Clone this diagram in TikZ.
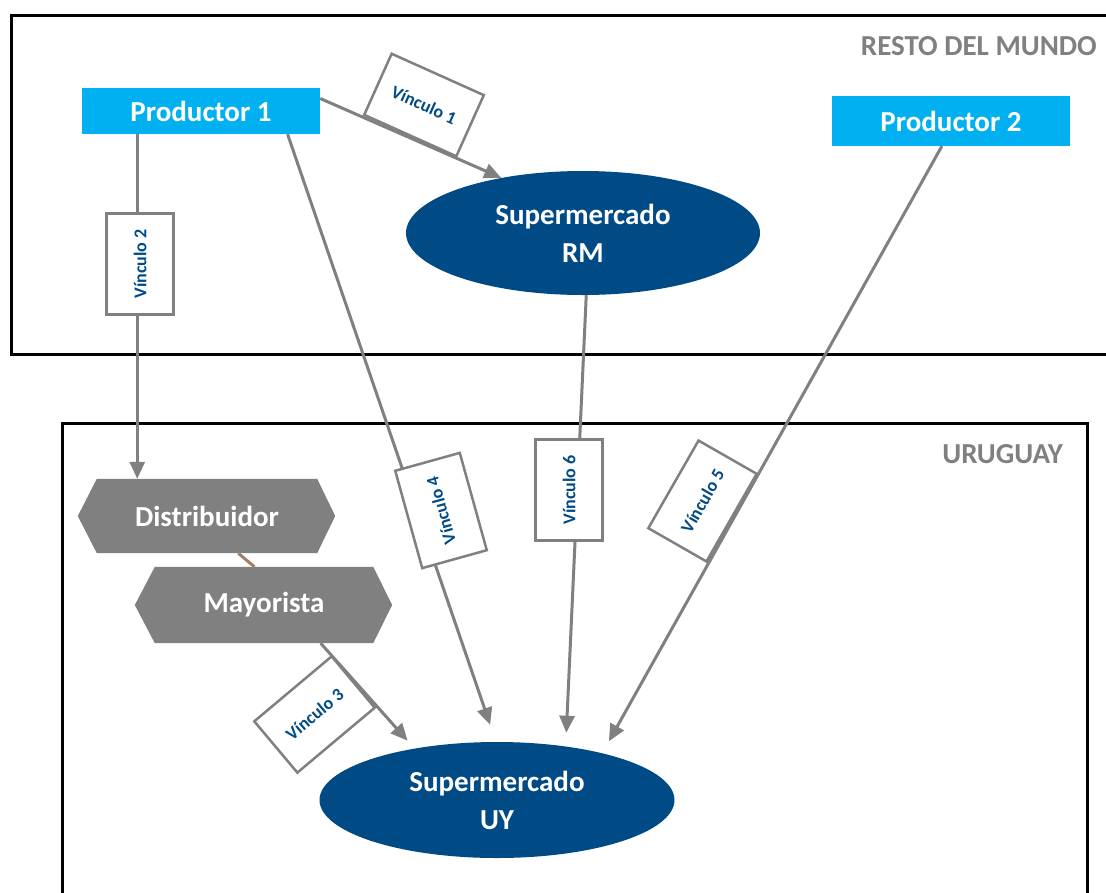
\documentclass[tikz,border=0pt]{standalone}
\usepackage{fontspec}
\setmainfont{Carlito}
\usetikzlibrary{shapes.geometric,arrows.meta,calc}
\pgfdeclarelayer{background}
\pgfsetlayers{background,main}
\definecolor{prodcyan}{RGB}{0,176,240}
\definecolor{marketblue}{RGB}{0,74,134}
\definecolor{flowgray}{RGB}{128,128,128}
\definecolor{linkbrown}{RGB}{160,128,104}
\begin{document}
\begin{tikzpicture}[x=1pt,y=1pt,
  region/.style={line width=3pt, draw=black},
  regionlabel/.style={text=flowgray, font=\bfseries\fontsize{29}{32}\selectfont, anchor=east, inner sep=0pt},
  producer/.style={fill=prodcyan, text=white, minimum width=238pt, minimum height=46pt, inner sep=0pt, font=\bfseries\fontsize{29}{32}\selectfont},
  market/.style={ellipse, fill=marketblue, text=white, inner sep=0pt, align=center, font=\bfseries\fontsize{29}{38}\selectfont},
  agent/.style={minimum width=220pt, minimum height=74pt, inner sep=0pt, text=white, font=\bfseries\fontsize{29}{32}\selectfont},
  agentfill/.style={fill=flowgray},
  flow/.style={draw=flowgray, line width=3pt},
  tip/.style={-{Triangle[length=17pt,width=15pt]}},
  linkbox/.style={draw=flowgray, line width=2.5pt, fill=white, text=marketblue, minimum width=101pt, minimum height=67pt, inner sep=0pt, font=\bfseries\fontsize{18}{20}\selectfont},
]
\useasboundingbox (0,-892) rectangle (1106,0);

% regions
\begin{pgfonlayer}{background}
  \draw[region] (1115,-15) -- (11,-15) -- (11,-354) -- (1115,-354);
  \draw[region] (62,-900) -- (62,-423) -- (1087,-423) -- (1087,-900);
\end{pgfonlayer}
\node[regionlabel] (restlabel) at (1097,-46) {RESTO DEL MUNDO};
\node[regionlabel] (uylabel) at (1063,-454) {URUGUAY};

% actors
\node[producer] (p1) at (201,-111) {Productor 1};
\node[producer, minimum height=50pt] (p2) at (951,-121) {Productor 2};
\node[market, minimum width=354pt, minimum height=124pt] (rm) at (583,-233) {Supermercado\\RM};
\node[market, minimum width=355pt, minimum height=116pt] (uy) at (497,-800) {Supermercado\\UY};
\node[agent] (dist) at (207,-516) {Distribuidor};
\node[agent, minimum height=76pt, minimum width=218pt] (may) at (264,-605) {Mayorista};

% hexagonal outlines of the intermediaries
\begin{pgfonlayer}{background}
  \fill[agentfill] (dist.north west) -- (dist.north east) -- ($(dist.east)+(18,0)$) -- (dist.south east) -- (dist.south west) -- ($(dist.west)+(-19,0)$) -- cycle;
  \fill[agentfill] (may.north west) -- (may.north east) -- ($(may.east)+(19,0)$) -- (may.south east) -- (may.south west) -- ($(may.west)+(-20,0)$) -- cycle;
\end{pgfonlayer}

% flows
\draw[flow,tip] (p1.6.7) -- (rm.146.5);
\draw[flow,tip] (p1.200.7) -- (p1.200.7 |- dist.north);
\draw[flow,tip,shorten >=18pt] (p1.345.5) -- (uy.91.2);
\draw[flow,tip,shorten >=13.6pt] (rm.273.6) -- (uy.38);
\draw[flow,tip,shorten >=13.5pt] (p2.250.2) -- (uy.24.8);
\draw[draw=linkbrown, line width=3pt] (dist.310.9) -- (may.104.7);
\draw[flow,tip,shorten >=10.4pt] (may.326.3) -- (uy.148.4);

% link labels
\node[linkbox, rotate=-24.2] (v1) at (424,-105) {Vínculo 1};
\node[linkbox, rotate=90] (v2) at (140,-264) {Vínculo 2};
\node[linkbox, rotate=40] (v3) at (314.5,-714.5) {Vínculo 3};
\node[linkbox, rotate=105.5] (v4) at (441,-510.5) {Vínculo 4};
\node[linkbox, rotate=60.2] (v5) at (702.5,-501) {Vínculo 5};
\node[linkbox, rotate=90] (v6) at (569,-490) {Vínculo 6};
\end{tikzpicture}
\end{document}
